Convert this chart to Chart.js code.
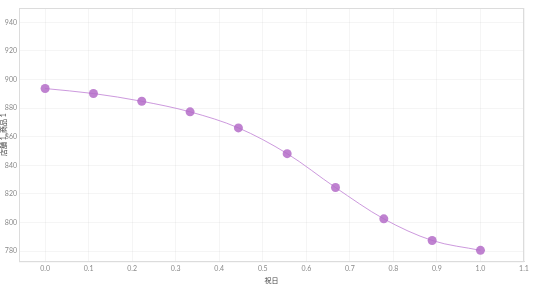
<!DOCTYPE html>
<html>
<head>
<meta charset="utf-8">
<script src="https://cdn.jsdelivr.net/npm/chart.js@4/dist/chart.umd.min.js"></script>
<style>
  html, body { margin: 0; padding: 0; background: #fff; }
  #wrap { width: 536px; height: 286px; }
</style>
</head>
<body>
<div id="wrap"><canvas id="chart"></canvas></div>
<script>
const holidayX = [0.0, 0.111, 0.222, 0.333, 0.444, 0.556, 0.667, 0.778, 0.889, 1.0];
const salesY = [893.7, 890.2, 884.8, 877.4, 866.2, 848.2, 824.5, 802.6, 787.5, 780.6];
const xTitle = "祝日";
const yTitle = "店舗 1_商品 1";

const fontFamily = 'Lato, "Noto Sans CJK JP", "Noto Sans", sans-serif';

// light frame around the plot area
const frame = {
  id: "frame",
  afterDraw(chart) {
    const { ctx, chartArea: a } = chart;
    ctx.save();
    ctx.strokeStyle = "#dcdcdc";
    ctx.lineWidth = 1;
    ctx.strokeRect(a.left + 0.5, a.top + 0.5, a.right - a.left - 1, a.bottom - a.top);
    ctx.restore();
  }
};

new Chart(document.getElementById("chart"), {
  type: "line",
  data: {
    datasets: [{
      data: holidayX.map((x, i) => ({ x: x, y: salesY[i] })),
      borderColor: "rgba(195, 135, 215, 0.85)",
      borderWidth: 1,
      backgroundColor: "rgba(180, 108, 200, 0.85)",
      pointRadius: 4.5,
      pointBorderWidth: 0,
      cubicInterpolationMode: "monotone",
      fill: false
    }]
  },
  options: {
    responsive: true,
    maintainAspectRatio: false,
    animation: false,
    layout: { padding: { top: 8, right: 12, left: 0, bottom: 0 } },
    plugins: {
      legend: { display: false },
      tooltip: { enabled: false }
    },
    scales: {
      x: {
        type: "linear",
        min: -0.06,
        max: 1.1,
        afterBuildTicks(scale) {
          scale.ticks = [0, 0.1, 0.2, 0.3, 0.4, 0.5, 0.6, 0.7, 0.8, 0.9, 1.0, 1.1].map(v => ({ value: v }));
        },
        ticks: {
          color: "#8a8a8a",
          font: { family: fontFamily, size: 7 },
          maxRotation: 0,
          padding: 3,
          callback: v => v.toFixed(1)
        },
        grid: { color: "rgba(0,0,0,0.04)", drawTicks: false },
        border: { color: "#dcdcdc" },
        title: {
          display: true,
          text: xTitle,
          color: "#444",
          font: { family: fontFamily, size: 7 },
          padding: { top: 1, bottom: 1 }
        }
      },
      y: {
        min: 773,
        max: 950,
        afterBuildTicks(scale) {
          scale.ticks = [780, 800, 820, 840, 860, 880, 900, 920, 940].map(v => ({ value: v }));
        },
        afterFit(scale) { scale.width = 19; },
        ticks: {
          color: "#8a8a8a",
          font: { family: fontFamily, size: 7 },
          padding: 2
        },
        grid: { color: "rgba(0,0,0,0.04)", drawTicks: false },
        border: { color: "#dcdcdc" },
        title: {
          display: true,
          text: yTitle,
          color: "#444",
          font: { family: fontFamily, size: 7 },
          padding: { top: 0, bottom: 0 }
        }
      }
    }
  },
  plugins: [frame]
});
</script>
</body>
</html>
